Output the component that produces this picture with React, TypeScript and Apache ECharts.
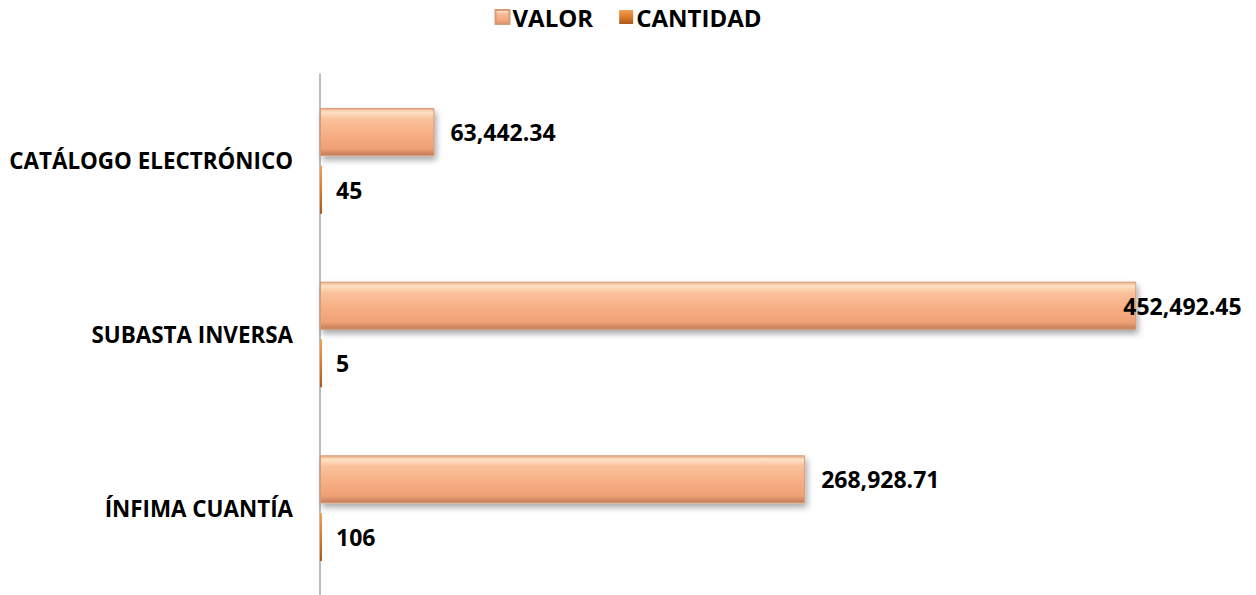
import React, { useEffect, useRef } from "react";
import * as echarts from "echarts";

const categories = ["CATÁLOGO ELECTRÓNICO", "SUBASTA INVERSA", "ÍNFIMA CUANTÍA"];
const valorValues = [63442.34, 452492.45, 268928.71];
const cantidadValues = [45, 5, 106];
const seriesNames = ["VALOR", "CANTIDAD"];

const FONT = "'Open Sans', 'Noto Sans', sans-serif";

function fmt(v: number, decimals: number) {
  return v.toLocaleString("en-US", { minimumFractionDigits: decimals, maximumFractionDigits: decimals });
}

export default function App() {
  const ref = useRef<HTMLDivElement>(null);
  useEffect(() => {
    if (!ref.current) return;
    const chart = echarts.init(ref.current, null, { renderer: "svg" });
    const valorGrad = new echarts.graphic.LinearGradient(0, 0, 0, 1, [
      { offset: 0, color: "#EFB08A" },
      { offset: 0.08, color: "#FDE2C4" },
      { offset: 0.22, color: "#FAC29D" },
      { offset: 0.55, color: "#F7AE84" },
      { offset: 0.85, color: "#F0A075" },
      { offset: 1, color: "#BF7C58" },
    ]);
    const cantGrad = new echarts.graphic.LinearGradient(0, 0, 0, 1, [
      { offset: 0, color: "#F0A055" },
      { offset: 0.5, color: "#DE7A2A" },
      { offset: 1, color: "#A85A1E" },
    ]);
    chart.setOption({
      animation: false,
      textStyle: { fontFamily: FONT },
      legend: {
        top: 0,
        left: "center",
        itemWidth: 14,
        itemHeight: 14,
        itemGap: 26,
        icon: "rect",
        textStyle: { fontFamily: FONT, fontWeight: "bold", fontSize: 24, color: "#000", padding: [0, 0, 0, -2] },
        data: seriesNames,
      },
      grid: { left: 320, right: 34, top: 74, bottom: -3, containLabel: false },
      xAxis: {
        type: "value",
        min: 0,
        max: 500000,
        show: false,
        splitLine: { show: false },
      },
      yAxis: {
        type: "category",
        data: categories,
        inverse: true,
        axisLine: { show: true, lineStyle: { color: "#A6A6A6", width: 1.5 } },
        axisTick: { show: false },
        axisLabel: {
          margin: 27,
          fontFamily: FONT,
          fontWeight: "bold",
          fontSize: 22.4,
          color: "#000",
          padding: [0, 0, 6, 0],
        },
      },
      series: [
        {
          name: seriesNames[0],
          type: "bar",
          barWidth: 48,
          barGap: "20%",
          data: valorValues.map((v, i) =>
            i === 1 ? { value: v, label: { offset: [-29, 0] } } : v
          ),
          itemStyle: {
            color: valorGrad,
            borderColor: "#D59A76",
            borderWidth: 1,
            shadowColor: "rgba(0,0,0,0.35)",
            shadowBlur: 6,
            shadowOffsetX: 2,
            shadowOffsetY: 4,
          },
          label: {
            show: true,
            position: "right",
            distance: 16,
            fontFamily: FONT,
            fontWeight: "bold",
            fontSize: 23,
            color: "#000",
            formatter: (p: any) => fmt(p.value, 2),
          },
        },
        {
          name: seriesNames[1],
          type: "bar",
          barWidth: 48,
          barGap: "20%",
          barMinHeight: 2,
          data: cantidadValues,
          itemStyle: { color: cantGrad },
          label: {
            show: true,
            position: "right",
            distance: 14,
            fontFamily: FONT,
            fontWeight: "bold",
            fontSize: 23,
            color: "#000",
            formatter: (p: any) => fmt(p.value, 0),
          },
        },
      ],
    });
    return () => chart.dispose();
  }, []);
  return (
    <div
      ref={ref}
      style={{ position: "fixed", left: 0, top: 0, width: 1256, height: 595, background: "#fff" }}
    />
  );
}
